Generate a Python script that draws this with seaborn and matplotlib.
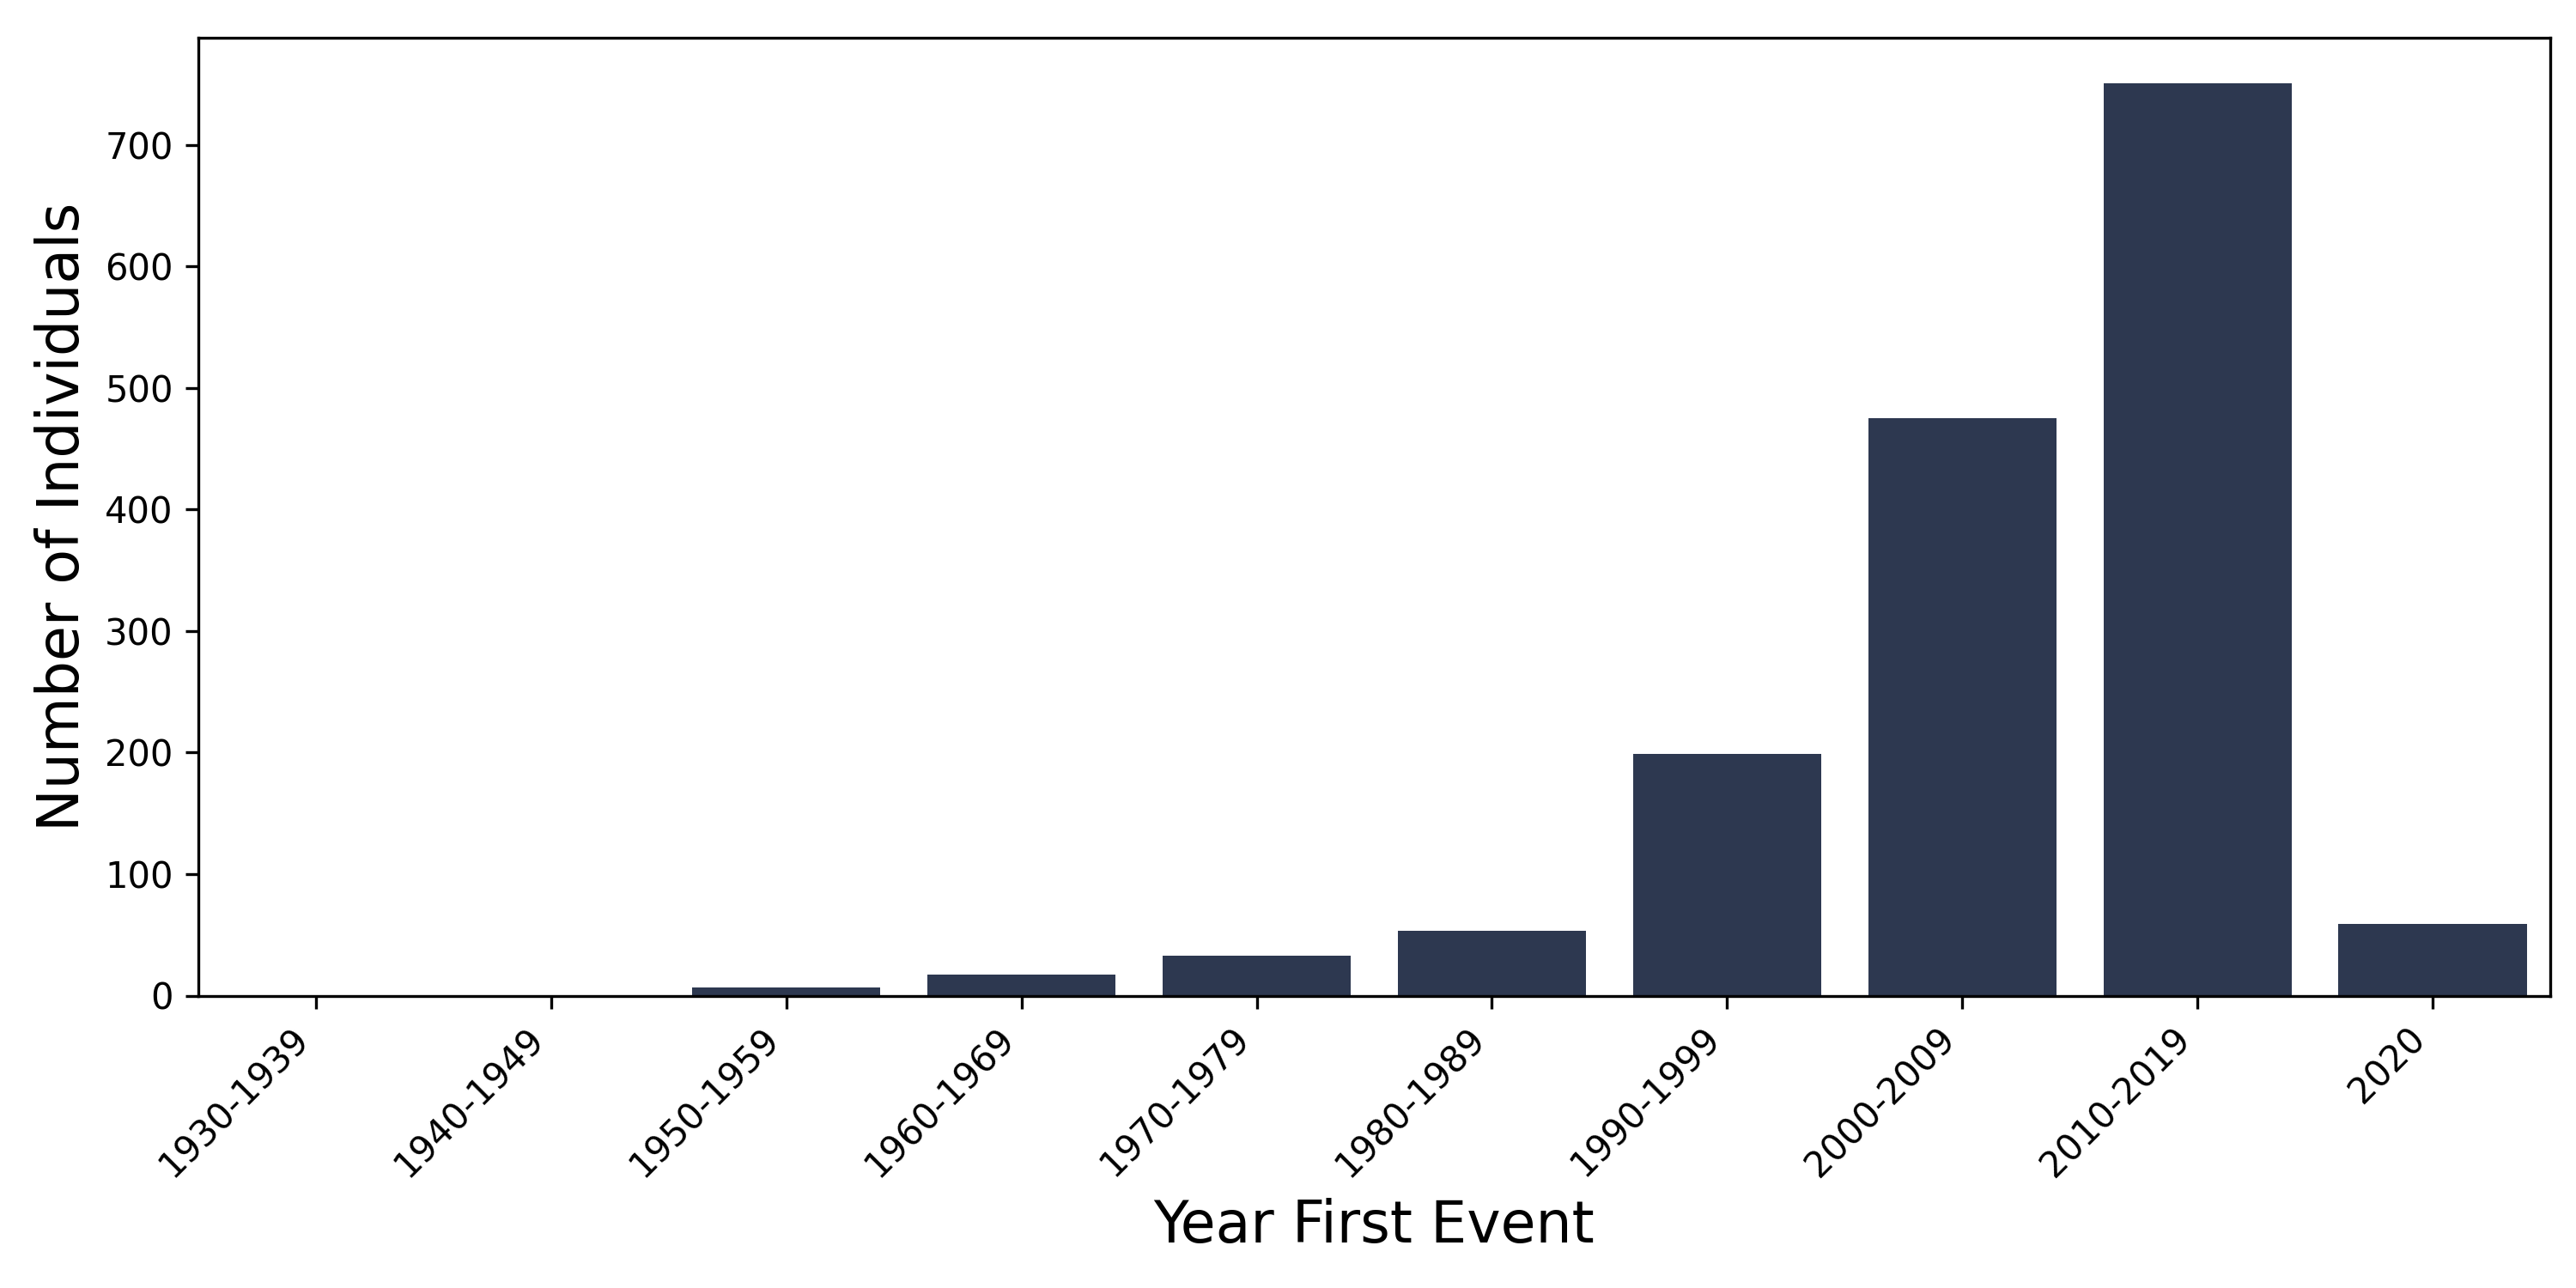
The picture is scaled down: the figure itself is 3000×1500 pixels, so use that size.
import pandas as pd
import matplotlib
matplotlib.use("Agg")
import matplotlib.pyplot as plt
import seaborn as sns

# decades and counts
decades = ["1930-1939", "1940-1949", "1950-1959", "1960-1969", "1970-1979",
           "1980-1989", "1990-1999", "2000-2009", "2010-2019", "2020"]
counts = [0, 0, 7, 17, 33, 53, 199, 475, 751, 59]

bar_color = "#2d3850"

df = pd.DataFrame({"decade": decades, "count": counts})

fig, ax = plt.subplots(figsize=(10, 5), dpi=300)
sns.barplot(data=df, x="decade", y="count", color=bar_color, saturation=1, ax=ax)

ax.set_xlabel("Year First Event", fontsize=16)
ax.set_ylabel("Number of Individuals", fontsize=16)
plt.xticks(rotation=45, ha="right", fontsize=10)
plt.yticks(fontsize=10)

plt.subplots_adjust(left=0.077, right=0.990, top=0.971, bottom=0.227)
plt.savefig("out.png", dpi=300)
